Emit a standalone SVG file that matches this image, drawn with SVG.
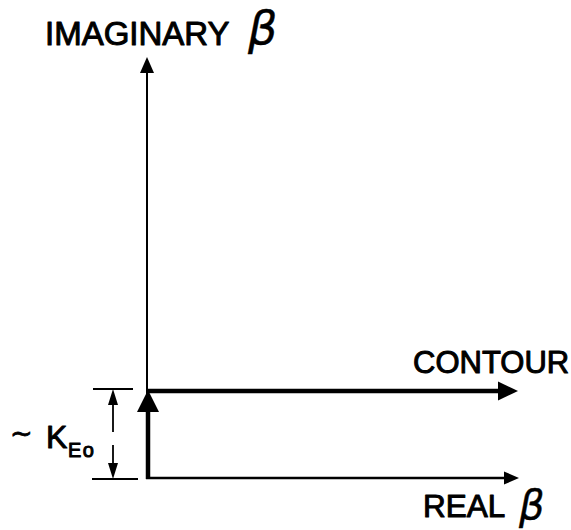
<svg xmlns="http://www.w3.org/2000/svg" width="571" height="530" viewBox="0 0 571 530">
<style>
.lbl{font-family:"Liberation Sans",Arial,sans-serif;fill:#000;stroke:#000;stroke-width:1;stroke-linejoin:round}
.beta{font-family:"DejaVu Sans",sans-serif;font-style:italic;fill:#000;stroke:#000;stroke-width:0.4}
.ln{stroke:#000;fill:none;stroke-linecap:butt}
.ah{fill:#000;stroke:none}
</style>
<rect width="571" height="530" fill="#fff"/>
<g id="connectors">
  <line class="ln" x1="147" y1="478" x2="147" y2="70" stroke-width="2"/>
  <polygon class="ah" points="147,57 140,73 154,73"/>
  <line class="ln" x1="146" y1="478" x2="506" y2="478" stroke-width="2.5"/>
  <polygon class="ah" points="519,478 504,471.5 504,484.5"/>
  <line class="ln" x1="148" y1="479" x2="148" y2="408" stroke-width="4.5"/>
  <polygon class="ah" points="148,390 137,412 159,412"/>
  <line class="ln" x1="147" y1="391" x2="500" y2="391" stroke-width="4.5"/>
  <polygon class="ah" points="518,391 498,381.5 498,400.5"/>
  <line class="ln" x1="93" y1="389" x2="133" y2="389" stroke-width="2"/>
  <line class="ln" x1="92" y1="479" x2="138" y2="479" stroke-width="2"/>
  <line class="ln" x1="113" y1="402" x2="113" y2="432" stroke-width="1.8"/>
  <polygon class="ah" points="113,389 108,405 118,405"/>
  <line class="ln" x1="113" y1="445" x2="113" y2="466" stroke-width="1.8"/>
  <polygon class="ah" points="113,479 108,463 118,463"/>
</g>
<g id="label-imaginary">
  <text class="lbl" x="45" y="45" font-size="33">IMAGINARY</text>
  <text class="beta" x="248" y="44" font-size="46">β</text>
</g>
<g id="label-contour">
  <text class="lbl" x="413" y="373" font-size="31">CONTOUR</text>
</g>
<g id="label-real">
  <text class="lbl" x="423" y="517" font-size="31.5">REAL</text>
  <text class="beta" x="519" y="519" font-size="40">β</text>
</g>
<g id="label-keo">
  <text class="lbl" x="10" y="442" font-size="27" style="font-family:'DejaVu Sans',sans-serif;stroke-width:0.8">~</text>
  <text class="lbl" x="46" y="448" font-size="32">K</text>
  <text class="lbl" x="68" y="457" font-size="20" letter-spacing="1.5">Eo</text>
</g>
</svg>
